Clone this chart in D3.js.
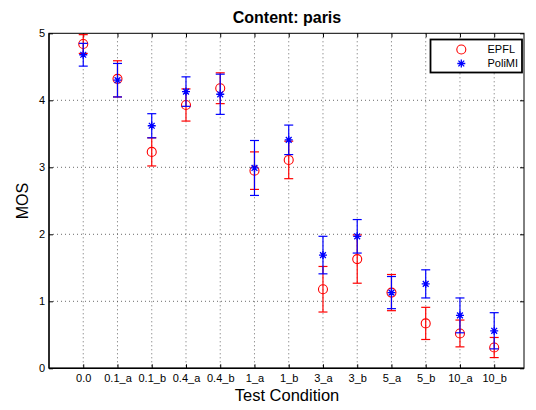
<!DOCTYPE html>
<html>
<head>
<meta charset="utf-8">
<script src="https://cdn.jsdelivr.net/npm/d3@7"></script>
<style>
  body { margin: 0; background: #fff; }
  svg { display: block; font-family: "Liberation Sans", Arial, Helvetica, sans-serif; }
</style>
</head>
<body>
<svg id="chart" width="536" height="410"></svg>
<script>
const categories = ["0.0","0.1_a","0.1_b","0.4_a","0.4_b","1_a","1_b","3_a","3_b","5_a","5_b","10_a","10_b"];
const epflMean   = [4.84, 4.32, 3.23, 3.93, 4.18, 2.95, 3.11, 1.18, 1.63, 1.13, 0.67, 0.52, 0.31];
const epflErr    = [0.14, 0.27, 0.21, 0.24, 0.23, 0.28, 0.28, 0.34, 0.36, 0.27, 0.24, 0.20, 0.15];
const polimiMean = [4.68, 4.30, 3.62, 4.13, 4.09, 2.99, 3.41, 1.69, 1.97, 1.13, 1.26, 0.79, 0.56];
const polimiErr  = [0.17, 0.25, 0.18, 0.22, 0.30, 0.41, 0.22, 0.28, 0.25, 0.24, 0.21, 0.26, 0.27];
const yTicks = [0, 1, 2, 3, 4, 5];
const seriesNames = ["EPFL", "PoliMI"];

const svg = d3.select("#chart");
const L = 49, R = 524, T = 33.3, B = 368.3;
const x = d3.scaleLinear().domain([0, 13.87]).range([L, R]);
const y = d3.scaleLinear().domain([0, 5]).range([B, T]);
const xPos = categories.map((c, i) => i + 1);

// grid
const grid = svg.append("g");
grid.selectAll(".vg").data(xPos).join("line")
  .attr("x1", d => x(d)).attr("x2", d => x(d))
  .attr("y1", T).attr("y2", B)
  .attr("stroke", "#444").attr("stroke-width", 0.8).attr("stroke-dasharray", "1,3");
grid.selectAll(".hg").data(yTicks.slice(1, -1)).join("line")
  .attr("x1", L).attr("x2", R)
  .attr("y1", d => y(d)).attr("y2", d => y(d))
  .attr("stroke", "#444").attr("stroke-width", 0.8).attr("stroke-dasharray", "1,3");

// axes (inward ticks, MATLAB box style)
const xAxis = d3.axisBottom(x).tickValues(xPos).tickFormat((d, i) => categories[i])
  .tickSizeInner(-4).tickSizeOuter(0).tickPadding(6);
const gx = svg.append("g").attr("transform", `translate(0,${B})`).call(xAxis);
gx.select(".domain").remove();
gx.selectAll("text").attr("font-size", 11).attr("fill", "#000").attr("font-family", "Liberation Sans, Arial, sans-serif");

const gxt = svg.append("g").attr("transform", `translate(0,${T})`)
  .call(d3.axisTop(x).tickValues(xPos).tickFormat("").tickSizeInner(-4).tickSizeOuter(0));
gxt.select(".domain").remove();

const yAxis = d3.axisLeft(y).tickValues(yTicks).tickFormat(d3.format("d"))
  .tickSizeInner(-4).tickSizeOuter(0).tickPadding(4);
const gy = svg.append("g").attr("transform", `translate(${L},0)`).call(yAxis);
gy.select(".domain").remove();
gy.selectAll("text").attr("font-size", 11).attr("fill", "#000").attr("font-family", "Liberation Sans, Arial, sans-serif");

const gyr = svg.append("g").attr("transform", `translate(${R},0)`)
  .call(d3.axisRight(y).tickValues(yTicks).tickFormat("").tickSizeInner(-4).tickSizeOuter(0));
gyr.select(".domain").remove();

svg.append("rect").attr("x", L).attr("y", T).attr("width", R - L).attr("height", B - T)
  .attr("fill", "none").attr("stroke", "#000").attr("stroke-width", 1);
svg.append("line").attr("x1", L).attr("x2", R).attr("y1", B).attr("y2", B)
  .attr("stroke", "#000").attr("stroke-width", 1.6);
svg.append("line").attr("x1", L).attr("x2", L).attr("y1", T).attr("y2", B)
  .attr("stroke", "#000").attr("stroke-width", 1.3);

// error bars + markers
function drawSeries(means, errs, color, marker) {
  const g = svg.append("g");
  const cap = 4.5;
  means.forEach((m, i) => {
    const cx = x(xPos[i]);
    const lo = y(m - errs[i]), hi = y(m + errs[i]);
    g.append("line").attr("x1", cx).attr("x2", cx).attr("y1", lo).attr("y2", hi)
      .attr("stroke", color).attr("stroke-width", 1.2);
    g.append("line").attr("x1", cx - cap).attr("x2", cx + cap).attr("y1", lo).attr("y2", lo)
      .attr("stroke", color).attr("stroke-width", 1.2);
    g.append("line").attr("x1", cx - cap).attr("x2", cx + cap).attr("y1", hi).attr("y2", hi)
      .attr("stroke", color).attr("stroke-width", 1.2);
    marker(g, cx, y(m), color);
  });
}
function circle(g, cx, cy, color) {
  g.append("circle").attr("cx", cx).attr("cy", cy).attr("r", 4.5)
    .attr("fill", "none").attr("stroke", color).attr("stroke-width", 1.1);
}
function star(g, cx, cy, color) {
  const s = 4, d = 2.9;
  const p = `M${cx - s},${cy}L${cx + s},${cy}M${cx},${cy - s}L${cx},${cy + s}` +
            `M${cx - d},${cy - d}L${cx + d},${cy + d}M${cx - d},${cy + d}L${cx + d},${cy - d}`;
  g.append("path").attr("d", p).attr("stroke", color).attr("stroke-width", 1.3).attr("fill", "none");
}
drawSeries(epflMean, epflErr, "#ff0000", circle);
drawSeries(polimiMean, polimiErr, "#0000ff", star);

// title & labels
svg.append("text").attr("x", 287).attr("y", 22.5).attr("text-anchor", "middle")
  .attr("font-size", 16).attr("font-weight", "bold").text("Content: paris");
svg.append("text").attr("x", 287).attr("y", 401).attr("text-anchor", "middle")
  .attr("font-size", 16.5).text("Test Condition");
svg.append("text").attr("transform", "translate(28,201) rotate(-90)").attr("text-anchor", "middle")
  .attr("font-size", 16).text("MOS");

// legend
const lg = svg.append("g");
lg.append("rect").attr("x", 430.5).attr("y", 39.5).attr("width", 91.5).attr("height", 33)
  .attr("fill", "#fff").attr("stroke", "#000").attr("stroke-width", 1.8);
circle(lg, 461.3, 49.5, "#ff0000");
star(lg, 461.3, 63.5, "#0000ff");
lg.append("text").attr("x", 487.5).attr("y", 53.3).attr("font-size", 11).text(seriesNames[0]);
lg.append("text").attr("x", 487.5).attr("y", 67.3).attr("font-size", 11).text(seriesNames[1]);
</script>
</body>
</html>
